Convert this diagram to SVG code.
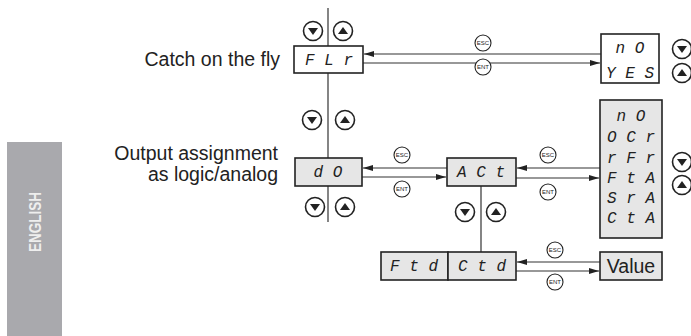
<svg xmlns="http://www.w3.org/2000/svg" width="691" height="336" viewBox="0 0 691 336">
<defs>
<style>
.lbl{font-family:"Liberation Sans",Arial,sans-serif;font-size:19.5px;fill:#222;}
.seg{font-family:"Liberation Mono","DejaVu Sans Mono",monospace;font-style:italic;font-size:16px;fill:#222;text-anchor:middle;}
.box{stroke:#222;stroke-width:1.6;}
.g{fill:#e6e6e6;}
.w{fill:#fff;}
.ln{stroke:#333;stroke-width:1.2;fill:none;}
.key{fill:#fff;stroke:#222;stroke-width:1.1;}
.kt{font-family:"Liberation Sans",Arial,sans-serif;font-size:6px;fill:#222;text-anchor:middle;}
.btn{fill:#fff;stroke:#222;stroke-width:1.6;}
</style>
<marker id="ah" viewBox="0 0 10 6" refX="10" refY="3" markerWidth="11" markerHeight="6" markerUnits="userSpaceOnUse" orient="auto">
<path d="M0,0 L10,3 L0,6 z" fill="#222"/>
</marker>
<g id="dn"><circle class="btn" r="9.5"/><path d="M-5,-3 L5,-3 L0,4 z" fill="#222"/></g>
<g id="up"><circle class="btn" r="9.5"/><path d="M-5,3 L5,3 L0,-4 z" fill="#222"/></g>
<g id="esc"><circle class="key" r="8"/><text class="kt" y="2">ESC</text></g>
<g id="ent"><circle class="key" r="8"/><text class="kt" y="2">ENT</text></g>
</defs>

<g id="english-tab">
<rect x="7" y="142" width="55" height="194" fill="#a9a9ad"/>
<text transform="translate(41,222) rotate(-90)" text-anchor="middle" font-family="Liberation Sans,Arial,sans-serif" font-weight="bold" font-size="17" fill="#eeeeee" textLength="60" lengthAdjust="spacingAndGlyphs">ENGLISH</text>
</g>

<g id="labels">
<text class="lbl" x="280" y="66" text-anchor="end">Catch on the fly</text>
<text class="lbl" x="278" y="160" text-anchor="end">Output assignment</text>
<text class="lbl" x="278" y="181" text-anchor="end">as logic/analog</text>
</g>

<g id="connectors">
<line class="ln" x1="328" y1="8" x2="328" y2="46"/>
<line class="ln" x1="328" y1="73" x2="328" y2="158"/>
<line class="ln" x1="328" y1="186" x2="328" y2="222"/>
<line class="ln" x1="481" y1="186" x2="481" y2="252"/>
<line class="ln" x1="601" y1="54" x2="364" y2="54" marker-end="url(#ah)"/>
<line class="ln" x1="363" y1="63" x2="600" y2="63" marker-end="url(#ah)"/>
<line class="ln" x1="447" y1="168" x2="363" y2="168" marker-end="url(#ah)"/>
<line class="ln" x1="362" y1="177" x2="446" y2="177" marker-end="url(#ah)"/>
<line class="ln" x1="600" y1="168" x2="517" y2="168" marker-end="url(#ah)"/>
<line class="ln" x1="516" y1="178" x2="599" y2="178" marker-end="url(#ah)"/>
<line class="ln" x1="600" y1="262" x2="517" y2="262" marker-end="url(#ah)"/>
<line class="ln" x1="516" y1="271" x2="599" y2="271" marker-end="url(#ah)"/>
<use href="#esc" x="483" y="43"/>
<use href="#ent" x="483" y="67"/>
<use href="#esc" x="402" y="155"/>
<use href="#ent" x="402" y="189"/>
<use href="#esc" x="548" y="155"/>
<use href="#ent" x="548" y="192"/>
<use href="#esc" x="555" y="250"/>
<use href="#ent" x="555" y="282"/>
</g>

<g id="buttons">
<use href="#dn" x="313" y="31"/><use href="#up" x="343" y="31"/>
<use href="#dn" x="312" y="120"/><use href="#up" x="345" y="120"/>
<use href="#dn" x="315" y="207"/><use href="#up" x="345" y="207"/>
<use href="#dn" x="465" y="212"/><use href="#up" x="496" y="212"/>
<use href="#dn" x="682" y="49"/><use href="#up" x="682" y="73"/>
<use href="#dn" x="682" y="162"/><use href="#up" x="682" y="185"/>
</g>

<g id="FLr">
<rect class="box w" x="294" y="46" width="69" height="27"/>
<text class="seg" x="329" y="65">F L r</text>
</g>
<g id="noyes">
<rect class="box w" x="601" y="34" width="58" height="49"/>
<text class="seg" x="630" y="53">n O</text>
<text class="seg" x="630" y="78">Y E S</text>
</g>
<g id="dO">
<rect class="box g" x="295" y="158" width="67" height="28"/>
<text class="seg" x="328" y="177">d O</text>
</g>
<g id="ACt">
<rect class="box g" x="447" y="158" width="69" height="28"/>
<text class="seg" x="481" y="177">A C t</text>
</g>
<g id="list">
<rect class="box g" x="600" y="100" width="62" height="138"/>
<text class="seg" x="631" y="121">n O</text>
<text class="seg" x="631" y="142">O C r</text>
<text class="seg" x="631" y="163">r F r</text>
<text class="seg" x="631" y="183">F t A</text>
<text class="seg" x="631" y="203">S r A</text>
<text class="seg" x="631" y="223">C t A</text>
</g>
<g id="Ftd">
<rect class="box g" x="381" y="252" width="67" height="28"/>
<text class="seg" x="414" y="271">F t d</text>
</g>
<g id="Ctd">
<rect class="box g" x="448" y="252" width="68" height="28"/>
<text class="seg" x="482" y="271">C t d</text>
</g>
<g id="Value">
<rect class="box g" x="600" y="252" width="62" height="28"/>
<text class="lbl" x="631" y="273" text-anchor="middle" font-size="18">Value</text>
</g>
</svg>
